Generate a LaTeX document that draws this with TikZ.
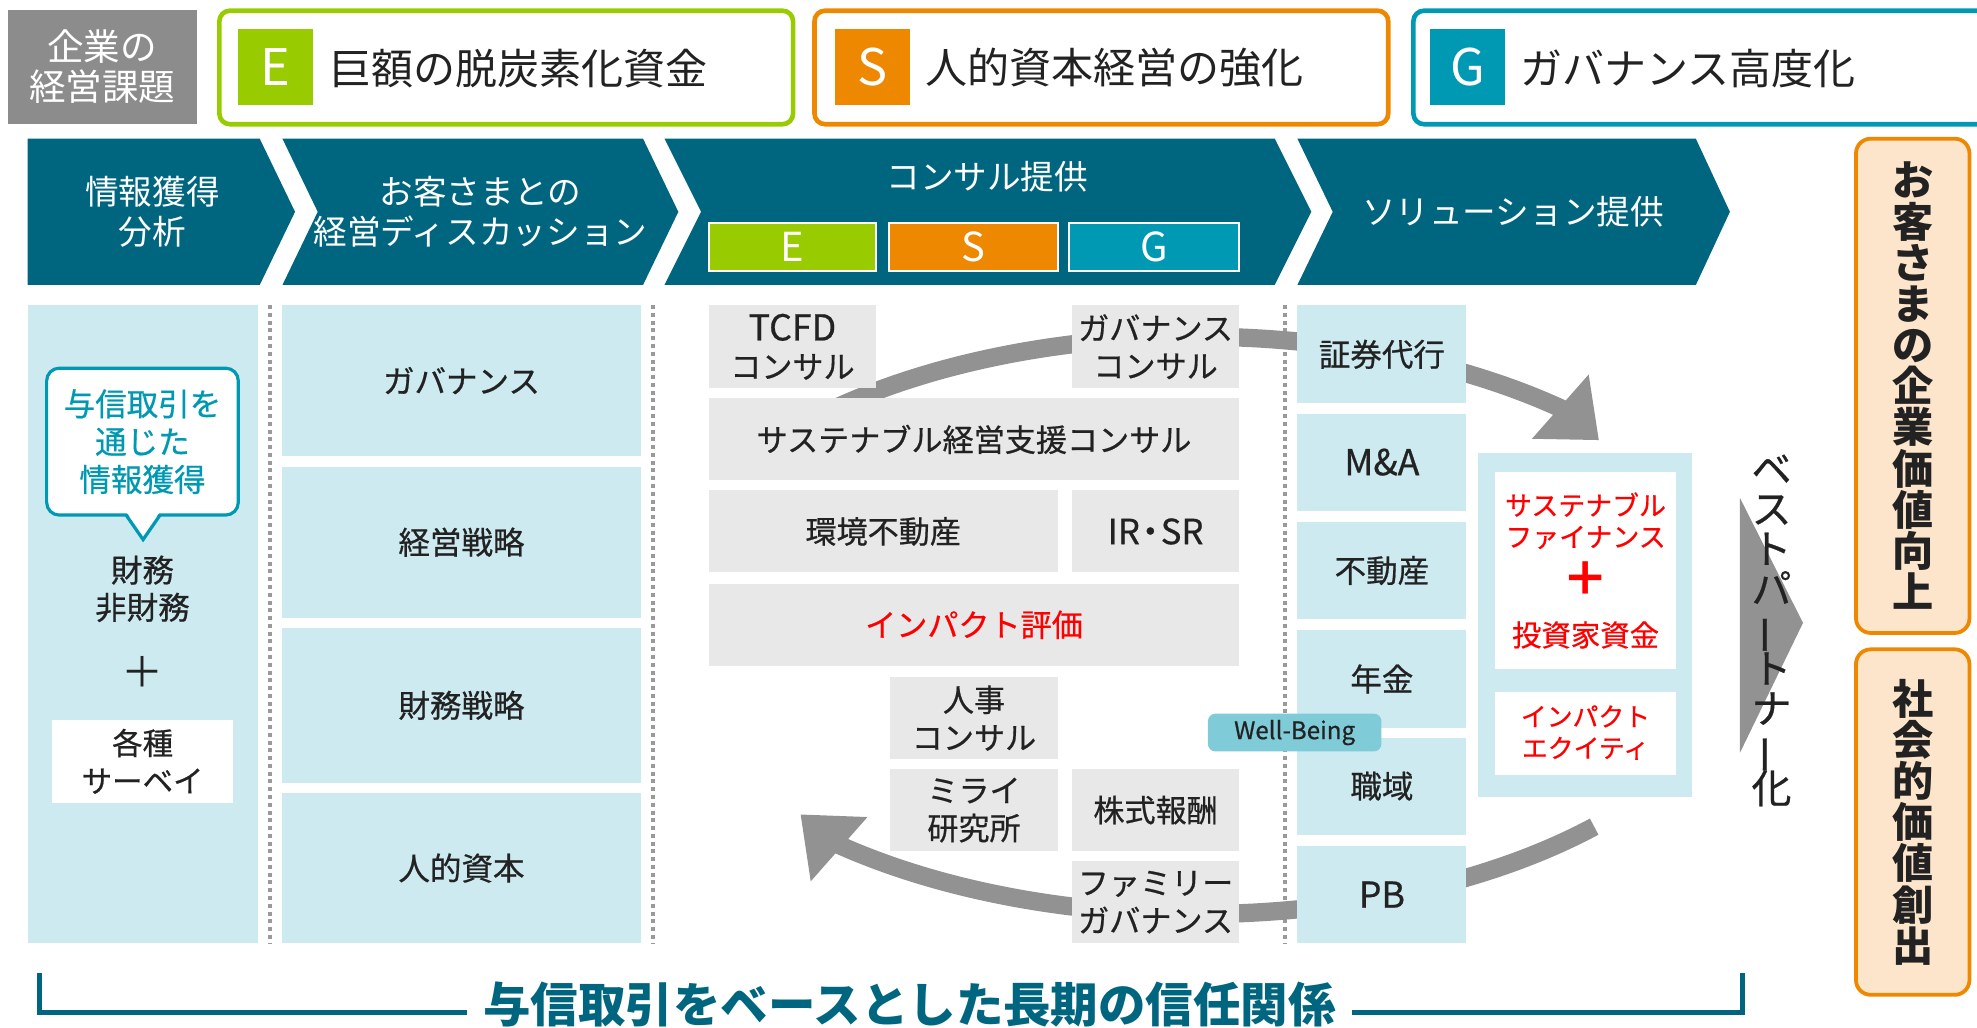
\documentclass[tikz,border=0pt]{standalone}
\usepackage{fontspec}
\setmainfont{Noto Sans CJK JP}
\newfontfamily\medfont{Noto Sans CJK JP}[FakeBold=0.6]
\usepackage{graphicx}
\definecolor{dteal}{HTML}{00667F}
\definecolor{lblue}{HTML}{CCEAF0}
\definecolor{lgray}{HTML}{E8E8E8}
\definecolor{agray}{HTML}{929292}
\definecolor{tgray}{HTML}{8C8C8C}
\definecolor{cE}{HTML}{99CC00}
\definecolor{cS}{HTML}{EE8800}
\definecolor{cG}{HTML}{0099B3}
\definecolor{wbc}{HTML}{7FCCD8}
\definecolor{peach}{HTML}{FDE5CC}
\definecolor{cred}{HTML}{FF0000}
\definecolor{txt}{HTML}{222222}
\definecolor{sepc}{HTML}{9A9A9A}
\newcommand\vbar{\rotatebox[origin=c]{90}{ー}}
\newcommand\myvfont{\medfont\fontsize{19}{19}\selectfont\lineskiplimit=-30pt\relax}
\newcommand\myofont{\bfseries\fontsize{19.6}{19.6}\selectfont\lineskiplimit=-30pt\relax}
\begin{document}
\begin{tikzpicture}[x=0.6pt,y=-0.6pt,
  every node/.style={inner sep=0pt,outer sep=0pt,text=txt,align=center},
  bxr/.style n args={4}{at={({(#1+#3)/2},{(#2+#4)/2})},minimum width={(#3-#1)*0.6pt},minimum height={(#4-#2)*0.6pt}},
  hframe/.style={draw=#1,line width=2.2pt,rounded corners=5pt,fill=white},
  sq/.style={fill=#1,text=white,font=\fontsize{24}{24}\selectfont},
  htext/.style={anchor=west,font=\fontsize{20}{24}\selectfont},
  chev/.style={fill=dteal},
  chevtxt/.style={text=white,font=\fontsize{16}{19.2}\selectfont},
  esg/.style={fill=#1,draw=white,line width=1pt,text=white,font=\fontsize{19}{19}\selectfont},
  bluebox/.style={fill=lblue,font=\medfont\fontsize{15}{18}\selectfont},
  graybox/.style={fill=lgray,font=\medfont\fontsize{14.8}{18}\selectfont},
  sepline/.style={draw=sepc,line width=1.7pt,dash pattern=on 1.9pt off 1.8pt},
  shaft/.style={draw=agray,line width=8.7pt},
  redtxt/.style={text=cred},
  obox/.style={draw=cS,fill=peach,line width=1.8pt,rounded corners=7pt},
  bracket/.style={draw=dteal,line width=2.4pt}]
\useasboundingbox (0,0) rectangle (1568,815);

% ---------- top row ----------
\node[bxr={6}{8}{156}{98},fill=tgray,text=white,font=\fontsize{17.4}{19.2}\selectfont] (issue) {企業の\\経営課題};
\node[hframe=cE,bxr={174}{8.5}{629}{98.5}] (fE) {};
\node[sq=cE,bxr={189}{23}{248}{83}] (sqE) {E};
\node[htext] (tE) at (261,54) {巨額の脱炭素化資金};
\node[hframe=cS,bxr={646}{8.5}{1101}{98.5}] (fS) {};
\node[sq=cS,bxr={662}{23}{722}{83}] (sqS) {S};
\node[htext] (tS) at (734,54) {人的資本経営の強化};
\node[hframe=cG,bxr={1121}{8.5}{1620}{98.5}] (fG) {};
\node[sq=cG,bxr={1134}{23}{1194}{83}] (sqG) {G};
\node[htext] (tG) at (1206,54) {ガバナンス高度化};

% ---------- chevrons ----------
\fill[chev] (22,110) -- (206,110) -- (234,168) -- (206,226) -- (22,226) -- cycle;
\fill[chev] (224,110) -- (510,110) -- (538,168) -- (510,226) -- (224,226) -- (252,168) -- cycle;
\fill[chev] (527,110) -- (1011,110) -- (1040,168) -- (1011,226) -- (527,226) -- (556,168) -- cycle;
\fill[chev] (1029,110) -- (1345,110) -- (1372,168) -- (1345,226) -- (1029,226) -- (1057,168) -- cycle;
\node[chevtxt] (c1) at (121,168) {情報獲得\\分析};
\node[chevtxt] (c2) at (381,168) {お客さまとの\\経営ディスカッション};
\node[chevtxt] (c3) at (783,140) {コンサル提供};
\node[esg=cE,bxr={562}{177}{695}{215}] (eE) {E};
\node[esg=cS,bxr={705}{177}{839}{215}] (eS) {S};
\node[esg=cG,bxr={848}{177}{983}{215}] (eG) {G};
\node[chevtxt] (c4) at (1200,168) {ソリューション提供};

% ---------- column 1 ----------
\node[bxr={22}{242}{205}{748},fill=lblue] (col1) {};
\node[bxr={37}{292}{189}{408.5},fill=white,draw=cG,line width=1.5pt,rounded corners=6pt,
      text=cG,font=\medfont\fontsize{15}{18}\selectfont] (bub) {与信取引を\\通じた\\情報獲得};
\coordinate (tl) at (100,408.5);
\coordinate (tr) at (127,408.5);
\coordinate (tip) at (113.5,428);
\fill[white] (100.5,406.5) -- (126.5,406.5) -- (113.5,425) -- cycle;
\draw[cG,line width=1.5pt] (tl) -- (tip) -- (tr);
\node[font=\medfont\fontsize{15}{17.7}\selectfont] (fin) at (113,467) {財務\\非財務};
\node[font=\fontsize{20}{20}\selectfont] (plus1) at (113,533) {＋};
\node[bxr={41.5}{571}{184.7}{636.6},fill=white,font=\medfont\fontsize{14.5}{18}\selectfont] (survey) {各種\\サーベイ};

% ---------- separators ----------
\draw[sepline] (214,242) -- (214,748);
\draw[sepline] (518,242) -- (518,748);
\draw[sepline] (1019,242) -- (1019,748);

% ---------- column 2 ----------
\node[bluebox,bxr={224}{242}{508}{361.7}] (gov) {ガバナンス};
\node[bluebox,bxr={224}{370}{508}{490}] (strat) {経営戦略};
\node[bluebox,bxr={224}{498}{508}{620.8}] (fstrat) {財務戦略};
\node[bluebox,bxr={224}{629}{508}{748}] (human) {人的資本};

% ---------- curved arrows ----------
\draw[shaft] plot[domain=140:47,samples=90,variable=\t] ({950+440*cos(\t)},{500-233*sin(\t)});
\fill[agray] (1215,348) -- (1260,297) -- (1268,349) -- cycle;
\draw[shaft] plot[domain=-44.4:-133,samples=90,variable=\t] ({950+440*cos(\t)},{494-231*sin(\t)});
\fill[agray] (635,646) -- (688,648) -- (643,699) -- cycle;

% ---------- column 3 ----------
\node[graybox,bxr={562}{242}{695}{308}] (tcfd) {{\fontsize{17}{18}\selectfont TCFD}\\コンサル};
\node[graybox,bxr={850}{242}{983}{308}] (gcons) {ガバナンス\\コンサル};
\node[graybox,bxr={562}{316}{983}{381}] (scons) {サステナブル経営支援コンサル};
\node[graybox,bxr={562}{389}{839}{454}] (env) {環境不動産};
\node[graybox,bxr={850}{389}{983}{454},font=\medfont\fontsize{16.5}{18}\selectfont] (irsr) {IR\kern-0.2em・\kern-0.2em SR};
\node[graybox,bxr={562}{463}{983}{528},text=cred] (impact) {インパクト評価};
\node[graybox,bxr={706}{537}{839}{602}] (hr) {人事\\コンサル};
\node[graybox,bxr={706}{610}{839}{675}] (mirai) {ミライ\\研究所};
\node[graybox,bxr={850}{610}{983}{675}] (stock) {株式報酬};
\node[graybox,bxr={850}{683}{983}{748}] (family) {ファミリー\\ガバナンス};

% ---------- column 4 ----------
\node[bluebox,bxr={1029}{242}{1163}{320}] (sec) {証券代行};
\node[bluebox,bxr={1029}{328}{1163}{405},font=\medfont\fontsize{17}{18}\selectfont] (ma) {M\&A};
\node[bluebox,bxr={1029}{414}{1163}{491}] (re) {不動産};
\node[bluebox,bxr={1029}{500}{1163}{577}] (pen) {年金};
\node[bluebox,bxr={1029}{585}{1163}{662}] (work) {職域};
\node[bluebox,bxr={1029}{671}{1163}{748},font=\medfont\fontsize{17}{18}\selectfont] (pb) {PB};
\node[bxr={958}{566}{1095.6}{596},fill=wbc,rounded corners=3.6pt,font=\medfont\fontsize{11.5}{12}\selectfont] (wb) {Well-Being};

% ---------- right panel ----------
\node[bxr={1172.5}{359.6}{1342}{632},fill=lblue] (panel) {};
\node[bxr={1186}{374}{1329}{530.7},fill=white] (fbox) {};
\node[bxr={1186}{548.6}{1329}{614.7},fill=white] (ebox) {};
\node[redtxt,font=\medfont\fontsize{12.8}{15}\selectfont] (sf) at (1257.5,413) {サステナブル\\ファイナンス};
\node[redtxt,font=\bfseries\fontsize{22}{22}\selectfont] (plus2) at (1257.5,459) {＋};
\node[redtxt,font=\medfont\fontsize{14}{16}\selectfont] (inv) at (1257.5,503.6) {投資家資金};
\node[redtxt,font=\medfont\fontsize{12.3}{15}\selectfont] (ie) at (1257.5,581) {インパクト\\エクイティ};

% ---------- best partner ----------
\fill[agray] (1380,395) -- (1430,494) -- (1380,597) -- cycle;
\node[font=\myvfont] (bp) at (1405,500)
  {ベ\\ス\\ト\\パ\\\vbar\\ト\\ナ\\\vbar\\化};

% ---------- value boxes ----------
\node[obox,bxr={1472}{110}{1562}{502},font=\myofont] (val1) {お\\客\\さ\\ま\\の\\企\\業\\価\\値\\向\\上};
\node[obox,bxr={1472}{515}{1562}{789},font=\myofont] (val2) {社\\会\\的\\価\\値\\創\\出};

% ---------- bottom bracket ----------
\node[text=dteal,font=\bfseries\fontsize{22.6}{24}\selectfont] (trust) at (721.5,797) {与信取引をベースとした長期の信任関係};
\coordinate (bl1) at (31,772);
\coordinate (bl2) at (370,803);
\coordinate (br1) at (1382,772);
\coordinate (br2) at (1072,803);
\draw[bracket] (bl1) |- (bl2);
\draw[bracket] (br1) |- (br2);
\end{tikzpicture}
\end{document}
